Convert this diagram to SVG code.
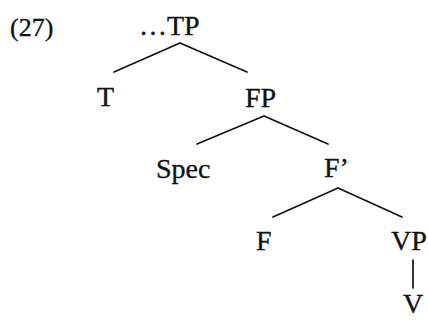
<svg xmlns="http://www.w3.org/2000/svg" width="428" height="321" viewBox="0 0 428 321">
<style>
text{font-family:"Liberation Serif","DejaVu Serif",serif;font-size:28px;fill:#111;stroke:#111;stroke-width:0.35}
.e{stroke:#111;stroke-width:1.7;fill:none;stroke-linecap:round}
</style>
<rect width="428" height="321" fill="#fff"/>
<g id="label"><text x="10" y="36" style="font-size:26px">(27)</text></g>
<g id="connectors">
<path class="e" d="M180 43L114 72M180 43L247 72"/>
<path class="e" d="M264 116L197 144M264 116L328 144"/>
<path class="e" d="M338 188L273 217M338 188L402 217"/>
<path class="e" d="M413 260V288"/>
</g>
<g id="TP"><text x="139" y="35">…TP</text></g>
<g id="T"><text x="97" y="106">T</text></g>
<g id="FP"><text x="245" y="107">FP</text></g>
<g id="Spec"><text x="156" y="178">Spec</text></g>
<g id="Fbar"><text x="324" y="177">F’</text></g>
<g id="F"><text x="256" y="250">F</text></g>
<g id="VP"><text x="391" y="250">VP</text></g>
<g id="V"><text x="403" y="313">V</text></g>
</svg>
